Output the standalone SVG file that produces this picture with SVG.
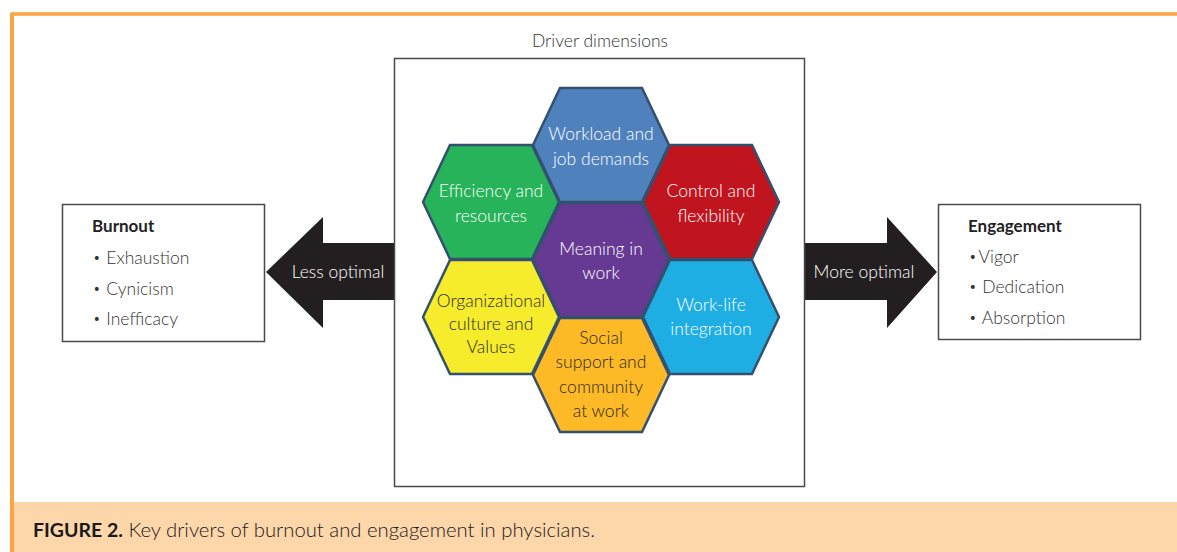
<svg xmlns="http://www.w3.org/2000/svg" width="1177" height="552" viewBox="0 0 1177 552">
<defs>
<style>
.t{font-family:Lato,"Open Sans","Liberation Sans",sans-serif;font-size:17.5px;font-weight:300;text-anchor:middle;}
.w{fill:#ffffff;}
.d{fill:#2a2a2a;}
.hex{stroke:#34506f;stroke-width:2.5;stroke-linejoin:miter;}
.box{fill:#ffffff;stroke:#4a4a4a;stroke-width:1.5;}
.lbl{font-family:Lato,"Open Sans","Liberation Sans",sans-serif;font-size:17.5px;font-weight:300;fill:#333;}
.b{font-size:13px;}
.ttl{font-family:Lato,"Open Sans","Liberation Sans",sans-serif;font-size:17px;font-weight:bold;fill:#222;}
.arrow{fill:#231f20;}
.atext{font-family:Lato,"Open Sans","Liberation Sans",sans-serif;font-size:17.5px;font-weight:300;fill:#ffffff;text-anchor:middle;}
</style>
<polygon id="hx" points="-68,0 -41,-57 41,-57 68,0 41,57 -41,57"/>
</defs>
<rect x="0" y="0" width="1177" height="552" fill="#ffffff"/>
<!-- frame -->
<line x1="12" y1="14" x2="1177" y2="14" stroke="#f9a541" stroke-width="3.5"/>
<line x1="12" y1="12.5" x2="12" y2="552" stroke="#f9a541" stroke-width="4"/>
<rect x="14" y="502" width="1163" height="50" fill="#fdd6aa"/>
<text x="33" y="537" font-family="Lato,'Liberation Sans',sans-serif" font-size="19.5" fill="#1a1a1a"><tspan font-weight="bold">FIGURE 2.</tspan><tspan font-weight="300" font-size="20.3"> Key drivers of burnout and engagement in physicians.</tspan></text>

<text x="600" y="47" class="lbl" text-anchor="middle" font-size="16.5">Driver dimensions</text>

<g id="connectors">
<polygon class="arrow" points="394,243 323,243 323,217 266,272 323,328 323,300 394,300"/>
<polygon class="arrow" points="805,243 887,243 887,217 937,272 887,328 887,300 805,300"/>
<text class="atext" x="338" y="278">Less optimal</text>
<text class="atext" x="864" y="278">More optimal</text>
</g>

<g id="driver-box">
<rect class="box" x="394.5" y="58.5" width="410" height="428" stroke="#2b2b2b"/>
</g>

<g id="burnout">
<rect class="box" x="62.5" y="204.5" width="202" height="137"/>
<text class="ttl" x="92" y="232">Burnout</text>
<text class="lbl" x="93" y="264"><tspan class="b" dy="-2">•</tspan><tspan dy="2" dx="1"> Exhaustion</tspan></text>
<text class="lbl" x="93" y="295"><tspan class="b" dy="-2">•</tspan><tspan dy="2" dx="1"> Cynicism</tspan></text>
<text class="lbl" x="93" y="325"><tspan class="b" dy="-2">•</tspan><tspan dy="2" dx="1"> Inefficacy</tspan></text>
</g>

<g id="engagement">
<rect class="box" x="938.5" y="204.5" width="202" height="135"/>
<text class="ttl" x="968" y="232">Engagement</text>
<text class="lbl" x="969" y="263"><tspan class="b" dy="-2">•</tspan><tspan dy="2" dx="2">Vigor</tspan></text>
<text class="lbl" x="969" y="293"><tspan class="b" dy="-2">•</tspan><tspan dy="2" dx="1"> Dedication</tspan></text>
<text class="lbl" x="969" y="324"><tspan class="b" dy="-2">•</tspan><tspan dy="2" dx="1"> Absorption</tspan></text>
</g>

<g id="hex-workload">
<use href="#hx" x="601" y="145" class="hex" fill="#4f81bd"/>
<text class="t w" x="601" y="140">Workload and</text>
<text class="t w" x="601" y="165">job demands</text>
</g>
<g id="hex-efficiency">
<use href="#hx" x="491" y="202" class="hex" fill="#27b35a"/>
<text class="t w" x="491" y="197">Efficiency and</text>
<text class="t w" x="491" y="222">resources</text>
</g>
<g id="hex-control">
<use href="#hx" x="711" y="202" class="hex" fill="#c0141e"/>
<text class="t w" x="711" y="197">Control and</text>
<text class="t w" x="711" y="222">flexibility</text>
</g>
<g id="hex-meaning">
<use href="#hx" x="601" y="260" class="hex" fill="#663a93"/>
<text class="t w" x="601" y="255">Meaning in</text>
<text class="t w" x="601" y="279">work</text>
</g>
<g id="hex-organizational">
<use href="#hx" x="491" y="317" class="hex" fill="#f7ec2c"/>
<text class="t d" x="491" y="307">Organizational</text>
<text class="t d" x="491" y="330">culture and</text>
<text class="t d" x="491" y="353">Values</text>
</g>
<g id="hex-worklife">
<use href="#hx" x="711" y="317" class="hex" fill="#1eaee3"/>
<text class="t w" x="711" y="311">Work-life</text>
<text class="t w" x="711" y="335">integration</text>
</g>
<g id="hex-social">
<use href="#hx" x="601" y="375" class="hex" fill="#fdb926"/>
<text class="t d" x="601" y="344">Social</text>
<text class="t d" x="601" y="368">support and</text>
<text class="t d" x="601" y="393">community</text>
<text class="t d" x="601" y="417">at work</text>
</g>
</svg>
